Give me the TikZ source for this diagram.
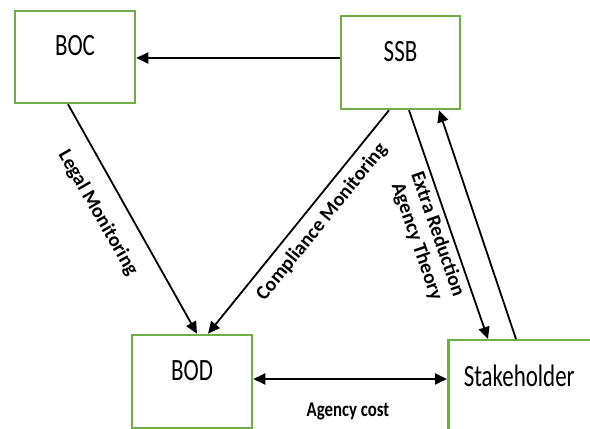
\documentclass[tikz,border=0pt]{standalone}
\usepackage{fontspec}
\setmainfont{Carlito}
\newfontfamily\boxfont[FakeStretch=0.74]{Carlito}
\newfontfamily\costfont[FakeStretch=0.8]{Carlito}
\usetikzlibrary{arrows.meta}
\definecolor{boxgreen}{RGB}{112,173,71}

\begin{document}
\begin{tikzpicture}[x=1pt,y=1pt,
  box/.style={draw=boxgreen, line width=2.5pt, fill=white,
    minimum width=120pt, minimum height=92pt, inner sep=0pt,
    text height=22pt, text depth=24pt,
    font=\boxfont\fontsize{31}{31}\selectfont},
  tip/.tip={Triangle[length=12pt,width=11pt]},
  arr/.style={line width=1.8pt, -tip},
  dblarr/.style={line width=1.8pt, tip-tip},
  lbl/.style={font=\bfseries\fontsize{20}{22}\selectfont, align=center, inner sep=0pt}
]
\useasboundingbox (0,0) rectangle (590,429);
\fill[white] (0,0) rectangle (590,429);
\clip (0,0) rectangle (590,429);

% the four parties
\node[box, minimum width=120pt, minimum height=92pt] (boc) at (75,372) {BOC};
\node[box, minimum width=119pt, minimum height=93pt] (ssb) at (400.5,366.5) {SSB};
\node[box, minimum width=120pt, minimum height=93pt] (bod) at (192,47.5) {BOD};
\node[box, minimum width=160pt, minimum height=102pt, anchor=north west,
  label={[name=staketext, font=\boxfont\fontsize{31}{31}\selectfont, xshift=-9pt, yshift=15pt]center:Stakeholder}]
  (stake) at (447,90) {};

% SSB reports to BOC
\coordinate (ssbw) at ([yshift=4.5pt]ssb.west);
\draw[arr] (ssbw) -- (ssbw -| boc.east);

% monitoring of the board of directors
\draw[arr] ([xshift=-7pt]boc.south) -- ([xshift=5pt]bod.north);
\draw[arr] ([xshift=-11.5pt]ssb.south) -- ([xshift=16pt]bod.north);

% SSB and stakeholders
\draw[arr] ([xshift=8.5pt]ssb.south) -- ([xshift=41pt]stake.north west);
\draw[arr] ([xshift=69pt]stake.north west) -- ([xshift=38.5pt]ssb.south);

% agency relation between BOD and stakeholders
\coordinate (bode) at ([yshift=2.5pt]bod.east);
\draw[dblarr] (bode) -- (bode -| stake.west);

% connector labels
\node[lbl, rotate=-60] (legal) at (98,216) {Legal Monitoring};
\node[lbl, rotate=51] (compliance) at (322,207) {Compliance Monitoring};
\node[lbl, rotate=-71] (extra) at (427,191) {Extra Reduction\\Agency Theory};
\node[lbl, font=\costfont\bfseries\fontsize{21}{22}\selectfont] (cost) at (348,18) {Agency cost};
\end{tikzpicture}
\end{document}
